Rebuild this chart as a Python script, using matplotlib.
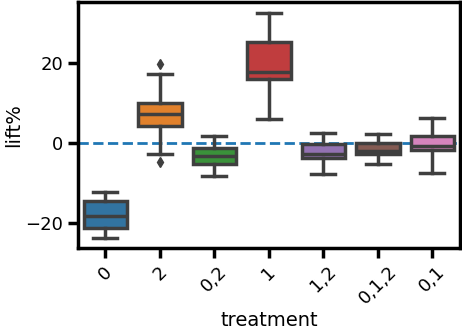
import colorsys
import matplotlib
matplotlib.use("Agg")
import matplotlib.pyplot as plt
import matplotlib.colors as mcolors

categories = ["0", "2", "0,2", "1", "1,2", "0,1,2", "0,1"]
whislo = [-23.7, -2.8, -8.2, 6.1, -7.8, -5.2, -7.5]
q1 = [-21.1, 4.25, -5.25, 16.1, -3.75, -2.8, -1.75]
med = [-18.2, 7.25, -3.1, 17.8, -2.6, -1.9, -0.6]
q3 = [-14.5, 10.0, -1.2, 25.2, -0.1, 0.1, 1.9]
whishi = [-12.2, 17.25, 1.75, 32.6, 2.6, 2.25, 6.3]
fliers = [[], [19.9, -4.8], [], [], [], [], []]
base_colors = ["#1f77b4", "#ff7f0e", "#2ca02c", "#d62728", "#9467bd", "#8c564b", "#e377c2"]


def desat(c, s=0.75):
    r, g, b = mcolors.to_rgb(c)
    h, l, sat = colorsys.rgb_to_hls(r, g, b)
    return colorsys.hls_to_rgb(h, l, sat * s)


fig = plt.figure(figsize=(4.62, 3.3), dpi=100)
ax = fig.add_axes([0.169, 0.248, 0.826, 0.745])

stats = []
for i, c in enumerate(categories):
    stats.append(dict(label=c, whislo=whislo[i], q1=q1[i], med=med[i],
                      q3=q3[i], whishi=whishi[i], fliers=fliers[i]))

lc = "#3f3f3f"
lw = 2.5
bp = ax.bxp(stats, positions=range(len(categories)), widths=0.8,
            patch_artist=True, showfliers=True,
            boxprops=dict(edgecolor=lc, linewidth=lw),
            medianprops=dict(color=lc, linewidth=lw),
            whiskerprops=dict(color=lc, linewidth=lw),
            capprops=dict(color=lc, linewidth=lw),
            flierprops=dict(marker="d", markerfacecolor=lc, markeredgecolor=lc,
                            markersize=5))
for patch, col in zip(bp["boxes"], base_colors):
    patch.set_facecolor(desat(col))
for cap in bp["caps"]:
    x = cap.get_xdata()
    m = (x[0] + x[1]) / 2
    cap.set_xdata([m - 0.22, m + 0.22])

ax.axhline(0, color="#1f77b4", linestyle="--", linewidth=2, zorder=0.5)

ax.set_xlim(-0.5, 6.5)
ax.set_ylim(-26.25, 35.25)
ax.set_yticks([-20, 0, 20])
ax.set_xticks(range(len(categories)))
ax.set_xticklabels(categories, rotation=45, ha="center", fontsize=13)
ax.tick_params(axis="y", labelsize=13)
ax.tick_params(width=2.5, length=7)
for s in ax.spines.values():
    s.set_linewidth(2.5)
ax.set_xlabel("treatment", fontsize=14, labelpad=2)
ax.set_ylabel("lift%", fontsize=14, labelpad=2)

fig.savefig("out.png", dpi=100)
